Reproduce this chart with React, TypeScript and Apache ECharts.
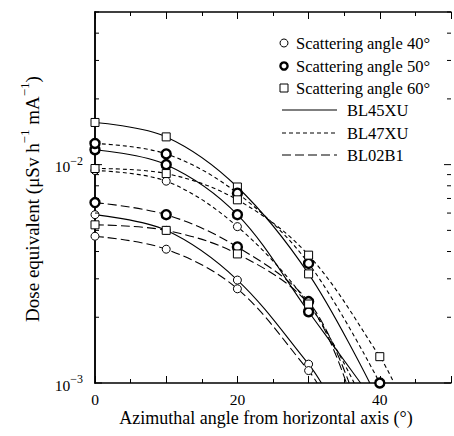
import { useEffect, useRef } from 'react';
import * as echarts from 'echarts';

// Azimuthal angles (deg) at which doses were measured
const angles = [0, 10, 20, 30, 40];

// Dose equivalent (µSv h^-1 mA^-1)
const bl45xu40 = [0.0059, 0.0050, 0.00296, 0.00122];
const bl45xu50 = [0.0117, 0.0100, 0.0059, 0.00212];
const bl45xu60 = [0.0156, 0.0134, 0.0079, 0.00316];
const bl47xu40 = [0.0094, 0.0084, 0.0052, 0.0023];
const bl47xu50 = [0.0125, 0.0112, 0.0074, 0.00353, 0.0010];
const bl47xu60 = [0.0096, 0.0091, 0.0069, 0.00385, 0.00132];
const bl02b140 = [0.0047, 0.0041, 0.0027, 0.00114];
const bl02b150 = [0.0067, 0.0059, 0.0042, 0.00236];
const bl02b160 = [0.0053, 0.0050, 0.0039, 0.0023];

// angle where each fitted curve reaches the 1e-3 floor
const crossBL45XU = [31.8, 37.3, 38.6];
const crossBL47XU = [36.4, 40.0, 42.0];
const crossBL02B1 = [31.2, 35.7, 35.3];
const floorValue = 0.001;

const beamlines = ['BL45XU', 'BL47XU', 'BL02B1'];
const scatterAngles = ['40', '50', '60'];

const yMajorTicks = [0.001, 0.01];
const yMinorTicks = [0.002, 0.003, 0.004, 0.005, 0.006, 0.007, 0.008, 0.009, 0.02, 0.03, 0.04, 0.05];

const FONT = 'Liberation Serif';

const txt = (size: number, extra: any = {}) => ({ fontSize: size, fontFamily: FONT, fill: '#000', color: '#000', ...extra });

export default function App() {
  const ref = useRef<HTMLDivElement>(null);
  useEffect(() => {
    if (!ref.current) return;
    const chart = echarts.init(ref.current, null, { renderer: 'svg' });

    const curveTable = [
      { bl: 0, sa: 0, vals: bl45xu40, cross: crossBL45XU[0] },
      { bl: 0, sa: 1, vals: bl45xu50, cross: crossBL45XU[1] },
      { bl: 0, sa: 2, vals: bl45xu60, cross: crossBL45XU[2] },
      { bl: 1, sa: 0, vals: bl47xu40, cross: crossBL47XU[0] },
      { bl: 1, sa: 1, vals: bl47xu50, cross: crossBL47XU[1] },
      { bl: 1, sa: 2, vals: bl47xu60, cross: crossBL47XU[2] },
      { bl: 2, sa: 0, vals: bl02b140, cross: crossBL02B1[0] },
      { bl: 2, sa: 1, vals: bl02b150, cross: crossBL02B1[1] },
      { bl: 2, sa: 2, vals: bl02b160, cross: crossBL02B1[2] },
    ];
    const dashes: any[] = ['solid', [4, 3], [9, 4]];
    const symbolOf = (sa: number) => (sa === 2 ? 'rect' : 'circle');
    const borderOf = (sa: number) => (sa === 1 ? 2.4 : 1);
    const sizeOf = (sa: number) => (sa === 2 ? 8 : sa === 1 ? 9 : 8);

    const series: any[] = [];
    curveTable.forEach((c) => {
      const pts = c.vals.map((v, i) => [angles[i], v]);
      const linePts = pts.slice();
      if (c.cross > angles[c.vals.length - 1]) linePts.push([c.cross, floorValue]);
      series.push({
        type: 'line',
        name: beamlines[c.bl] + ' ' + scatterAngles[c.sa],
        data: linePts,
        showSymbol: false,
        smooth: 0.35,
        clip: true,
        z: 2,
        silent: true,
        lineStyle: { color: '#000', width: 1.1, type: dashes[c.bl] },
      });
      series.push({
        type: 'scatter',
        data: pts,
        symbol: symbolOf(c.sa),
        symbolSize: sizeOf(c.sa),
        z: 3,
        silent: true,
        itemStyle: { color: '#fff', borderColor: '#000', borderWidth: borderOf(c.sa), opacity: 1 },
      });
    });

    const tickData = [
      ...yMajorTicks.map((v) => [0, v, 1]),
      ...yMinorTicks.map((v) => [0, v, 0]),
    ];
    series.push({
      type: 'custom',
      silent: true,
      clip: false,
      z: 5,
      data: tickData,
      encode: { x: 0, y: 1 },
      renderItem: (_p: any, api: any) => {
        const v = api.value(1);
        const major = api.value(2) === 1;
        const len = major ? 7 : 4;
        const a = api.coord([0, v]);
        const b = api.coord([50, v]);
        return {
          type: 'group',
          children: [
            { type: 'line', shape: { x1: a[0], y1: a[1], x2: a[0] + len, y2: a[1] }, style: { stroke: '#000', lineWidth: 1 } },
            { type: 'line', shape: { x1: b[0] - len, y1: b[1], x2: b[0], y2: b[1] }, style: { stroke: '#000', lineWidth: 1 } },
          ],
        };
      },
    });

    const yFmt = (v: number) => {
      const e = Math.log10(v);
      const r = Math.round(e);
      if (Math.abs(e - r) > 1e-6 || (r !== -3 && r !== -2)) return '';
      return '{b|10}{s|\u2212' + -r + '}';
    };

    const legendRows = [
      { y: 43, label: 'Scattering angle 40°', kind: 'thin' },
      { y: 66, label: 'Scattering angle 50°', kind: 'bold' },
      { y: 88, label: 'Scattering angle 60°', kind: 'square' },
    ];
    const legendLines = [
      { y: 110, label: beamlines[0], dash: null },
      { y: 133, label: beamlines[1], dash: [4, 3] },
      { y: 155, label: beamlines[2], dash: [9, 4] },
    ];
    const richText = (x: number, y: number, s: string, size: number, align: string, extra: any = {}) => ({
      type: 'text', x, y, ...extra,
      style: {
        text: '{n|' + s + '}', align, verticalAlign: 'middle', fill: '#000',
        rich: { n: txt(size, { lineHeight: size + 4 }) },
      },
    });
    const graphic: any[] = [];
    legendRows.forEach((r) => {
      if (r.kind === 'square') {
        graphic.push({ type: 'rect', shape: { x: 280, y: r.y - 4, width: 8, height: 8 }, style: { fill: '#fff', stroke: '#000', lineWidth: 1 } });
      } else {
        graphic.push({ type: 'circle', shape: { cx: 284, cy: r.y, r: r.kind === 'bold' ? 3.6 : 4 }, style: { fill: '#fff', stroke: '#000', lineWidth: r.kind === 'bold' ? 2.4 : 1 } });
      }
      graphic.push(richText(296, r.y, r.label, 16.5, 'left'));
    });
    legendLines.forEach((r) => {
      graphic.push({ type: 'line', shape: { x1: 282, y1: r.y, x2: 337, y2: r.y }, style: { stroke: '#000', lineWidth: 1.1, lineDash: r.dash || undefined } });
      graphic.push(richText(347, r.y, r.label, 16.5, 'left'));
    });
    graphic.push(richText(266, 418, 'Azimuthal angle from horizontal axis (°)', 18, 'center'));
    graphic.push({
      type: 'text', x: 30, y: 199, rotation: Math.PI / 2,
      style: {
        text: '{n|Dose equivalent (μSv h}{s|\u22121}{n| mA}{s|\u22121}{n|)}',
        fill: '#000', align: 'center', verticalAlign: 'middle',
        rich: {
          n: txt(19, { lineHeight: 24, verticalAlign: 'bottom' }),
          s: txt(13, { lineHeight: 13, verticalAlign: 'top' }),
        },
      },
    });

    const xCommon = {
      type: 'value', min: 0, max: 50, interval: 10,
      axisLine: { show: true, lineStyle: { color: '#000', width: 1.5 } },
      axisTick: { show: true, inside: true, length: 7, lineStyle: { color: '#000', width: 1 } },
      minorTick: { show: true, splitNumber: 2, length: 4, lineStyle: { color: '#000', width: 1 } },
      splitLine: { show: false },
    };

    chart.setOption({
      animation: false,
      backgroundColor: '#fff',
      textStyle: { fontFamily: FONT },
      grid: { left: 95, top: 12, width: 361, height: 371, containLabel: false },
      xAxis: [
        {
          ...xCommon, position: 'bottom',
          axisLabel: {
            margin: 7,
            formatter: (v: number) => (v % 20 === 0 && v <= 40 ? '{n|' + v + '}' : ''),
            rich: { n: txt(15.5, { lineHeight: 18 }) },
          },
        },
        { ...xCommon, position: 'top', axisLabel: { show: false } },
      ],
      yAxis: [
        {
          type: 'log', logBase: 10, min: 0.001, max: 0.05, position: 'left',
          axisLine: { show: true, lineStyle: { color: '#000', width: 1.5 } },
          axisTick: { show: false },
          splitLine: { show: false },
          axisLabel: {
            margin: 12, formatter: yFmt,
            rich: {
              b: txt(15.5, { lineHeight: 20, verticalAlign: 'bottom' }),
              s: txt(12, { lineHeight: 12, verticalAlign: 'top' }),
            },
          },
        },
        {
          type: 'log', logBase: 10, min: 0.001, max: 0.05, position: 'right',
          axisLine: { show: true, lineStyle: { color: '#000', width: 1.5 } },
          axisTick: { show: false }, axisLabel: { show: false }, splitLine: { show: false },
        },
      ],
      graphic,
      series,
    });
    return () => chart.dispose();
  }, []);
  return <div ref={ref} style={{ position: 'fixed', left: 0, top: 0, width: 454, height: 436 }} />;
}
